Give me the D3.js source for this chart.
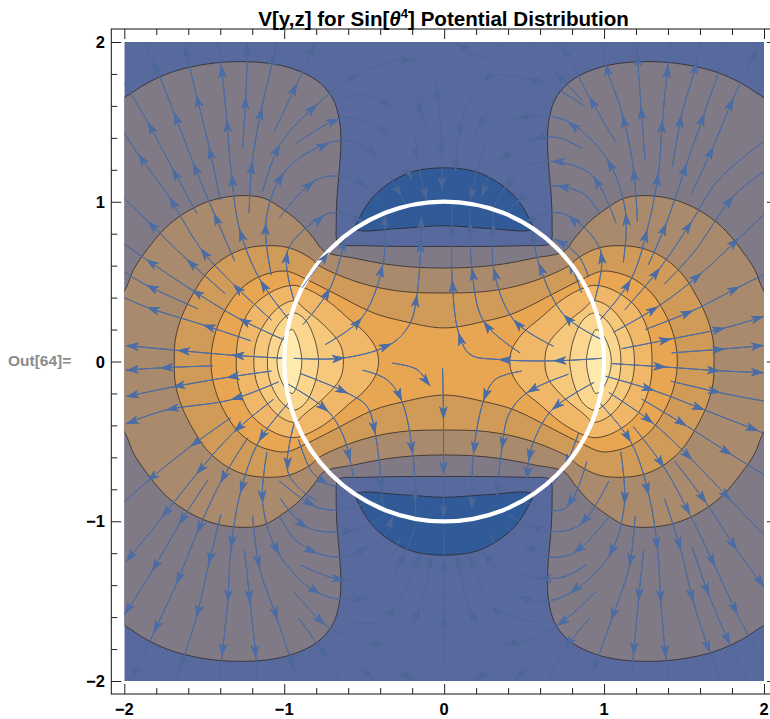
<!DOCTYPE html>
<html>
<head>
<meta charset="utf-8">
<script src="https://cdn.jsdelivr.net/npm/d3@7"></script>
<style>
	html, body { margin: 0; padding: 0; background: #fff; overflow: hidden; }
	text { font-family: "Liberation Sans", Arial, sans-serif; font-weight: bold; }
</style>
</head>
<body>
<svg id="chart" width="770" height="719"></svg>
<script>
const majorTicks = [-2, -1, 0, 1, 2];
const minorTicks = d3.range(-20, 21, 2).map(v => v / 10).filter(v => !majorTicks.includes(v));

// contour levels, upper left quarter only. The plot is symmetric.
const levelA = [[-2.3,1.5],[-2,1.652],[-1.858,1.742],[-1.692,1.815],[-1.483,1.862],[-1.275,1.877],[-1.067,1.862],[-.9,1.815],[-.775,1.742],[-.692,1.637],[-.654,1.502],[-.646,1.367],[-.654,1.221],[-.671,1.012],[-.675,.846],[-.672,.76],[-.655,.734],[-.5,.725],[-.25,.72],[0,.72]];
const levelB = [[-2.2,.2],[-2,.44],[-1.942,.575],[-1.858,.7],[-1.733,.846],[-1.588,.95],[-1.442,1.012],[-1.275,1.038],[-1.129,1.023],[-1.004,.95],[-.9,.867],[-.817,.773],[-.75,.69],[-.567,.648],[-.369,.61],[-.18,.59],[0,.585]];
const levelC = [[-1.6875,0],[-1.681,.1375],[-1.64,.283],[-1.567,.429],[-1.483,.554],[-1.358,.658],[-1.233,.71],[-1.088,.725],[-.963,.71],[-.8375,.648],[-.775,.596],[-.525,.492],[-.275,.44],[0,.429]];
const levelD = [[-1.458,0],[-1.442,.1375],[-1.39,.283],[-1.296,.429],[-1.192,.5125],[-1.0875,.554],[-.983,.565],[-.858,.5125],[-.692,.429],[-.442,.304],[-.254,.252],[0,.21]];
const levelE = [[-1.3,0],[-1.285,.158],[-1.2125,.325],[-1.108,.419],[-1.004,.467],[-.921,.475],[-.79,.42],[-.69,.35],[-.6,.27],[-.504,.19],[-.43,.09],[-.41,0]];
const levelF = [[-1.19,0],[-1.17,.14],[-1.1,.27],[-1.02,.35],[-.93,.38],[-.88,.335],[-.754,.23],[-.65,.106],[-.63,0]];
const levelG = [[-1.105,0],[-1.09,.12],[-1.03,.24],[-.96,.3],[-.92,.3],[-.86,.25],[-.81,.14],[-.79,.05],[-.785,0]];
const levelH = [[-1.045,0],[-1.03,.09],[-.99,.17],[-.95,.2],[-.92,.15],[-.9,.08],[-.89,0]];
const capArc = [[-.55,.83],[-.525,.908],[-.442,1.033],[-.327,1.127],[-.192,1.19],[0,1.2125],[.192,1.19],[.327,1.127],[.442,1.033],[.525,.908],[.55,.83]];
const capBase = [[.275,.833],[0,.85],[-.275,.833]];

const bandColors = ["#7f7a86", "#a98a6c", "#d09a58", "#e8a552", "#f0b768", "#f6c87c", "#fbd68e", "#ffeaae"];
const blueColor = "#58699d";
const capColor = "#315b98";

// every stream, tail to head. A third element 1 marks an arrow tip on that point
const streamLines = [
	// upper left
	[[-1,.02],[-1.33,.04,1],[-1.67,.07,1],[-1.99,.1,1]],
	[[-1.21,.13],[-1.51,.23,1],[-1.86,.34,1],[-2,.4]],
	[[-.99,.13],[-1.285,.27,1],[-1.58,.45,1],[-1.865,.64,1],[-2,.735]],
	[[-1.54,.33],[-1.865,.48,1],[-2,.56]],
	[[-1.08,.26],[-1.32,.485,1],[-1.525,.71,1],[-1.72,1.03,1],[-1.915,1.3,1],[-2,1.43]],
	[[-1.37,.425],[-1.61,.64,1],[-1.855,.88,1],[-2,1.02]],
	[[-1.31,.63],[-1.44,.93,1],[-1.57,1.245,1],[-1.69,1.56,1],[-1.82,1.88,1],[-1.88,2]],
	[[-1.545,.925],[-1.7,1.21,1],[-1.855,1.5,1],[-2,1.74]],
	[[-1.4,1.01],[-1.47,1.345,1],[-1.55,1.67,1],[-1.625,1.98,1]],
	[[-.96,.25],[-1.15,.51,1],[-1.28,.83,1],[-1.33,1.175,1],[-1.36,1.515,1],[-1.395,1.855,1],[-1.42,2]],
	[[-1.22,.93],[-1.2,1.25,1],[-1.14,1.59,1],[-1.06,1.93,1],[-1.045,2]],
	[[-1.26,1.335],[-1.24,1.66,1],[-1.23,1.99,1]],
	[[-1.135,1.065],[-1.025,1.36,1],[-.795,1.61,1],[-.535,1.8,1],[-.19,1.89,1],[-.067,1.76],[-.035,1.61,1],[-.015,1.3,1],[-.015,1.075,1]],
	[[-1.0625,1.44],[-.92,1.74,1],[-.805,1.99,1]],
	[[-.925,1.365],[-.655,1.52,1],[-.505,1.51],[-.35,1.41,1],[-.2,1.14,1]],
	[[-1.08,.54],[-1.115,.87,1],[-1.004,1.18,1],[-.72,1.37,1],[-.545,1.37],[-.42,1.28,1],[-.265,1.03,1],[-.23,.98]],
	[[-1.03,.9],[-.8125,1.13,1],[-.65,1.16],[-.49,1.095,1],[-.38,.98]],
	[[-.93,.355],[-.98,.69,1],[-.75,.915,1],[-.65,.93],[-.505,.877,1]],
	[[-.883,.231],[-.7125,.46,1],[-.62,.773,1],[-.615,.81]],
	[[-.744,.106],[-.515,.273,1],[-.383,.606,1],[-.369,.92,1],[-.36,.95]],
	[[-.94,.02],[-.62,.023,1],[-.327,.1125,1],[-.2125,.24],[-.17,.42,1],[-.144,.7625,1],[-.144,.908,1]],
	[[-.3375,1.78],[-.19,1.7],[-.14,1.54,1],[-.11,1.45]],
	[[-.63,1.64],[-.5,1.67],[-.33,1.595,1],[-.19,1.43],[-.165,1.26,1],[-.11,1.01,1]],
	// upper right, blue part
	[[.454,1.68],[.2875,1.596],[.215,1.46,1],[.183,1.4]],
	[[.88,1.596],[.715,1.7],[.517,1.77,1],[.308,1.79],[.246,1.75,1],[.142,1.596],[.09,1.41,1],[.07,1.19,1]],
	[[.86,1.64],[.694,1.815,1],[.527,1.99]],
	[[1.12,.62],[1.135,.93,1],[1.02,1.267,1],[.777,1.5,1],[.61,1.54],[.454,1.52,1],[.308,1.43],[.235,1.29],[.1625,1.01,1]],
	[[1.07,1.377],[.906,1.658,1],[.735,1.97,1],[.683,2]],
	[[.86,1.335],[.715,1.4],[.558,1.39,1],[.35,1.2625,1],[.2875,1.18],[.235,1.03,1]],
	[[1.075,.867],[.933,1.158,1],[.798,1.23],[.673,1.252,1],[.517,1.22],[.37,1.075,1],[.308,.96]],
	[[.965,.94],[.88,1.044],[.704,1.1,1],[.58,1.075],[.444,.99,1],[.4,.93]],
	[[.933,.356],[.98,.69,1],[.777,.9125,1],[.652,.93],[.506,.877,1]],
	[[.902,.533],[.84,.66],[.694,.7625,1],[.62,.74]],
	[[.86,.43],[.78,.627,1],[.74,.67]],
	[[.298,1.8875],[.194,1.92],[.075,1.99,1]],
	[[.475,1.8875],[.35,1.99]],
	// centre, going up
	[[.985,.1375],[.746,.294,1],[.59,.617,1],[.548,.815,1],[.52,.87]],
	[[.985,.02],[.683,.004,1],[.34,.0125,1],[.1625,.044],[.09,.18,1],[.05,.5125,1],[.048,.856,1],[.048,.99]],
	[[.475,.054],[.246,.252,1],[.173,.585,1],[.1625,.877,1],[.158,.95]],
	[[.683,.096],[.433,.2625,1],[.308,.585,1],[.308,.867,1],[.298,.98]],
	// upper right, rays
	[[.965,.25],[1.167,.5125,1],[1.27,.825,1],[1.34,1.18,1],[1.365,1.51,1],[1.4,1.856,1],[1.417,2]],
	[[1.208,.877],[1.183,1.21,1],[1.115,1.544,1],[1.006,1.867,1],[.985,1.99]],
	[[1.256,1.2625],[1.231,1.596,1],[1.208,1.93,1],[1.208,2]],
	[[1.277,.606],[1.39,.867,1],[1.517,1.24,1],[1.627,1.554,1],[1.777,1.99]],
	[[1.427,1.22],[1.485,1.544,1],[1.58,1.877,1],[1.6,2]],
	[[1.544,1.044],[1.683,1.346,1],[1.808,1.648,1],[1.954,1.95,1],[1.98,2]],
	[[1.377,.485],[1.558,.68],[1.808,1.033,1],[2,1.19]],
	[[1.13,.325],[1.35,.585,1],[1.548,.877,1],[1.715,1.1375],[2,1.377]],
	[[1.058,.183],[1.34,.346,1],[1.61,.554,1],[1.844,.773,1],[2,.92]],
	[[1.256,.2],[1.558,.32,1],[1.85,.47,1],[2,.544]],
	[[1.11,.08],[1.423,.1417,1],[1.756,.21,1],[2,.283,1]],
	[[1.423,.054],[1.756,.079,1],[2,.1,1]],
	// lower right, rays
	[[1.048,-.013],[1.39,-.035,1],[1.725,-.058,1],[2,-.07,1]],
	[[1.002,-.09],[1.315,-.183,1],[1.63,-.304,1],[1.965,-.435,1],[2,-.45]],
	[[1.417,-.123],[1.73,-.196,1],[2,-.248]],
	[[1.03,-.194],[1.308,-.3875,1],[1.552,-.617,1],[1.79,-.867,1],[2,-1.085]],
	[[1.235,-.235],[1.517,-.404,1],[1.8,-.585,1],[2,-.71]],
	[[.965,-.252],[1.169,-.506,1],[1.28,-.835,1],[1.335,-1.18,1],[1.356,-1.5125,1],[1.387,-1.856,1],[1.41,-1.99]],
	[[1.183,-.408],[1.377,-.665,1],[1.5375,-.96,1],[1.694,-1.283,1],[1.835,-1.585,1],[2,-1.898]],
	[[1.44,-.623],[1.64,-.8875,1],[1.83,-1.18,1],[2,-1.41,1]],
	[[1.377,-.856],[1.48,-1.18,1],[1.558,-1.506,1],[1.6625,-1.825,1],[1.72,-1.99]],
	[[1.552,-1.165],[1.656,-1.465,1],[1.7875,-1.773,1],[1.89,-1.99]],
	[[1.246,-1.185],[1.215,-1.5,1],[1.183,-1.84,1],[1.173,-1.99]],
	[[1.194,-.97],[1.158,-1.283,1],[1.044,-1.623,1],[.933,-1.94,1],[.92,-1.99]],
	// lower right, arcs into the cap
	[[1.104,-.565],[1.127,-.895,1],[1.03,-1.221,1],[.7875,-1.45,1],[.631,-1.5],[.465,-1.467,1],[.35,-1.346],[.246,-1.196,1]],
	[[.892,-1.27],[.756,-1.346],[.59,-1.356,1],[.465,-1.315],[.34,-1.19],[.29,-1.08]],
	[[1.027,-.977],[.808,-1.2,1],[.63,-1.22],[.506,-1.144,1],[.4,-1.04]],
	[[1.03,-.748],[.85,-1.023,1],[.673,-1.065],[.5375,-1.03,1],[.4,-.96]],
	[[.892,-.627],[.767,-.9125,1],[.63,-.93],[.506,-.877]],
	[[.84,-.45],[.756,-.658,1],[.67,-.78]],
	[[.948,-1.44],[.704,-1.654,1],[.39,-1.77,1],[.246,-1.696],[.156,-1.546,1],[.08,-1.22,1]],
	[[.59,-1.633],[.43,-1.6],[.298,-1.53,1],[.152,-1.21,1]],
	[[.9125,-1.606],[.756,-1.794,1],[.652,-1.99]],
	[[.6625,-1.79],[.444,-1.99,1]],
	[[.433,-1.858],[.194,-1.99,1]],
	[[0,-1.915],[0,-1.585,1],[0,-1.245,1],[0,-1.05]],
	// centre, going down
	[[-.327,-.01],[-.17,-.05],[-.0875,-.154,1]],
	[[-.01,-.04],[-.004,-.3625,1],[-.004,-.706,1],[-.004,-.977,1]],
	[[-.51,-.054],[-.36,-.1125],[-.265,-.248,1],[-.196,-.58,1],[-.18,-.883,1],[-.177,-.967]],
	[[-.9,-.075],[-.6,-.2,1],[-.483,-.28],[-.43,-.456,1],[-.39,-.81,1],[-.385,-.9]],
	[[-.983,-.1375],[-.723,-.315,1],[-.63,-.467],[-.5875,-.623,1],[-.556,-.78]],
	[[.485,-.06],[.32,-.1125],[.246,-.248,1],[.183,-.58,1],[.173,-.925,1]],
	[[.777,-.08],[.517,-.196,1],[.405,-.33],[.36,-.55,1],[.33,-.84,1]],
	[[.9375,-.131],[.673,-.304,1],[.56,-.5],[.527,-.627,1],[.517,-.74,1]],
	// lower left, rays
	[[-1.446,-.027],[-1.775,-.04,1],[-1.99,-.054,1]],
	[[-1.08,-.06],[-1.36,-.1,1],[-1.7,-.16,1],[-1.99,-.22,1]],
	[[-1.035,-.127],[-1.335,-.24,1],[-1.74,-.304,1],[-1.99,-.39,1]],
	[[-1.067,-.237],[-1.317,-.444,1],[-1.55,-.706,1],[-1.765,-.977,1],[-1.9875,-1.252,1]],
	[[-1.333,-.352],[-1.5875,-.533,1],[-1.858,-.752,1],[-2,-.88]],
	[[-1.23,-.48],[-1.4,-.76,1],[-1.546,-1.075,1],[-1.675,-1.394,1],[-1.817,-1.7,1],[-1.952,-1.99,1]],
	[[-1.477,-.742],[-1.66,-1.023,1],[-1.827,-1.315,1],[-2,-1.585,1]],
	[[-.967,-.252],[-1.16,-.502,1],[-1.275,-.825,1],[-1.333,-1.169,1],[-1.354,-1.508,1],[-1.39,-1.846,1],[-1.41,-2]],
	[[-1.396,-.956],[-1.473,-1.273,1],[-1.55,-1.606,1],[-1.65,-1.92,1],[-1.67,-2]],
	[[-1.248,-1.185],[-1.2125,-1.513,1],[-1.177,-1.856,1],[-1.17,-2]],
	[[-1.198,-.97],[-1.154,-1.294,1],[-1.042,-1.617,1],[-.942,-1.919,1],[-.917,-2]],
	// lower left, arcs into the cap
	[[-1.108,-.57],[-1.135,-.8875,1],[-1.03,-1.21,1],[-.775,-1.456,1],[-.4925,-1.485,1],[-.369,-1.42],[-.244,-1.196,1],[-.18,-1.03]],
	[[-.91,-.49],[-.827,-.69],[-.723,-.77,1],[-.65,-.78]],
	[[-.93,-.356],[-.98,-.68,1],[-.9,-.8],[-.8,-.87]],
	[[-1.03,-.748],[-.806,-.908,1],[-.65,-.93],[-.504,-.888]],
	[[-1.025,-.856],[-.854,-1.04,1],[-.556,-1.055,1],[-.369,-.96]],
	[[-1.03,-.97],[-.94,-1.106],[-.796,-1.2,1],[-.608,-1.221],[-.473,-1.16,1],[-.369,-1.085],[-.32,-.97,1]],
	[[-.9,-1.273],[-.62,-1.367,1],[-.369,-1.273],[-.275,-1.1]],
	[[-.94,-1.44],[-.744,-1.648,1],[-.567,-1.74],[-.38,-1.77,1],[-.254,-1.71],[-.15,-1.54,1],[-.077,-1.22,1]],
	[[-.577,-1.633],[-.42,-1.633],[-.3,-1.53,1],[-.15,-1.21,1]],
	[[-.91,-1.606],[-.733,-1.856,1],[-.65,-2]],
	[[-.66,-1.783],[-.44,-1.99,1]],
	[[-.43,-1.85],[-.2,-1.99,1]]
];
// this one runs along the ring and shows on top of it
const ringStream = [[-.89,.46],[-.8,.58],[-.723,.683,1]];

const svg = d3.select("#chart");
const x = d3.scaleLinear().domain([-2, 2]).range([124.3, 764]);
const y = d3.scaleLinear().domain([-2, 2]).range([681, 42]);
const framePad = 13;

const curveLine = d3.line().x(p => x(p[0])).y(p => y(p[1])).curve(d3.curveCatmullRomClosed.alpha(0.5));
const openLine = d3.line().x(p => x(p[0])).y(p => y(p[1])).curve(d3.curveCatmullRom.alpha(0.5));

// quarter -> closed curve around all four quadrants
function fullLoop(q) {
	const top = q.concat(q.slice(0, -1).reverse().map(p => [-p[0], p[1]]));
	const bottom = top.slice().reverse().filter(p => p[1] != 0).map(p => [p[0], -p[1]]);
	return top.concat(bottom);
}

// half of a lobe round the left pole -> closed curve. side = 1 gives the right pole
function lobeLoop(q, side) {
	const half = q.concat(q.slice(1, -1).reverse().map(p => [p[0], -p[1]]));
	return half.map(p => [side * p[0], p[1]]);
}

const defs = svg.append("defs");
defs.append("clipPath").attr("id", "plotClip").append("rect")
	.attr("x", x(-2)).attr("y", y(2)).attr("width", x(2) - x(-2)).attr("height", y(-2) - y(2));
defs.append("clipPath").attr("id", "greyClip").append("path").attr("d", curveLine(fullLoop(levelA)));

const plot = svg.append("g").attr("clip-path", "url(#plotClip)");
plot.append("rect")
	.attr("x", x(-2)).attr("y", y(2)).attr("width", x(2) - x(-2)).attr("height", y(-2) - y(2))
	.attr("fill", blueColor);

function drawBand(points, fill) {
	plot.append("path").attr("d", curveLine(points))
		.attr("fill", fill)
		.attr("stroke", "#2b2422").attr("stroke-opacity", 0.75).attr("stroke-width", 1);
}

[levelA, levelB, levelC, levelD].forEach((q, i) => drawBand(fullLoop(q), bandColors[i]));
[levelE, levelF, levelG, levelH].forEach((q, i) => {
	drawBand(lobeLoop(q, 1), bandColors[i + 4]);
	drawBand(lobeLoop(q, -1), bandColors[i + 4]);
});

[1, -1].forEach(s => {
	drawBand(capArc.concat(capBase).map(p => [p[0], s * p[1]]), capColor);
});

function drawStream(group, points, color) {
	group.append("path").attr("d", openLine(points))
		.attr("fill", "none").attr("stroke", color).attr("stroke-width", 1);
	points.forEach((p, i) => {
		if (!p[2]) return;
		const prev = points[i - 1];
		const next = points[i + 1] || p;
		const dx = (x(p[0]) - x(prev[0])) * 2 + x(next[0]) - x(p[0]);
		const dy = (y(p[1]) - y(prev[1])) * 2 + y(next[1]) - y(p[1]);
		const angle = Math.atan2(dy, dx) * 180 / Math.PI;
		group.append("path")
			.attr("d", "M0,0L-13,-4.2L-9.8,0L-13,4.2Z")
			.attr("transform", `translate(${x(p[0])},${y(p[1])}) rotate(${angle})`)
			.attr("fill", color);
	});
}

const faintStreams = plot.append("g");
const greyStreams = plot.append("g").attr("clip-path", "url(#greyClip)");
streamLines.forEach(points => {
	drawStream(faintStreams, points, "#4c6795");
	drawStream(greyStreams, points, "#4a6da6");
});

plot.append("circle")
	.attr("cx", x(0)).attr("cy", y(0)).attr("r", x(1) - x(0))
	.attr("fill", "none").attr("stroke", "#fff").attr("stroke-width", 4.2);
drawStream(plot, ringStream, "#4a6da6");

// frame and ticks
const frameLeft = x(-2) - framePad, frameRight = x(2) + framePad;
const frameTop = y(2) - framePad, frameBottom = y(-2) + framePad;
svg.append("rect")
	.attr("x", frameLeft).attr("y", frameTop)
	.attr("width", frameRight - frameLeft).attr("height", frameBottom - frameTop)
	.attr("fill", "none").attr("stroke", "#111").attr("stroke-width", 1);

function tickSet(axis, values, size, pos) {
	const g = svg.append("g").attr("transform", pos)
		.call(axis.tickValues(values).tickSize(-size).tickFormat(""));
	g.select(".domain").remove();
	g.selectAll(".tick line").attr("stroke", "#222").attr("stroke-width", 1);
}
[[majorTicks, 10], [minorTicks, 6]].forEach(([values, size]) => {
	tickSet(d3.axisBottom(x), values, size, `translate(0,${frameBottom})`);
	tickSet(d3.axisTop(x), values, size, `translate(0,${frameTop})`);
	tickSet(d3.axisLeft(y), values, size, `translate(${frameLeft},0)`);
	tickSet(d3.axisRight(y), values, size, `translate(${frameRight},0)`);
});

const tickName = v => v < 0 ? "\u2212" + (-v) : String(v);
svg.append("g").selectAll("text").data(majorTicks).join("text")
	.attr("x", d => x(d)).attr("y", 714.5)
	.attr("text-anchor", "middle").attr("font-size", 16.5).attr("fill", "#000")
	.text(tickName);
svg.append("g").selectAll("text").data(majorTicks).join("text")
	.attr("x", 105).attr("y", d => y(d) + 6)
	.attr("text-anchor", "end").attr("font-size", 16.5).attr("fill", "#000")
	.text(tickName);

// title
const title = svg.append("text").attr("x", 443.5).attr("y", 25.5)
	.attr("text-anchor", "middle").attr("font-size", 20.6).attr("fill", "#000");
title.append("tspan").text("V[y,z] for Sin[");
title.append("tspan").text("\u03b8").attr("font-style", "italic");
title.append("tspan").text("4").attr("font-size", 13).attr("dy", -8);
title.append("tspan").text("] Potential Distribution").attr("dy", 8);

svg.append("text").attr("x", 8).attr("y", 366)
	.attr("font-size", 15.5).attr("fill", "#8c8c8c").text("Out[64]=");
</script>
</body>
</html>
